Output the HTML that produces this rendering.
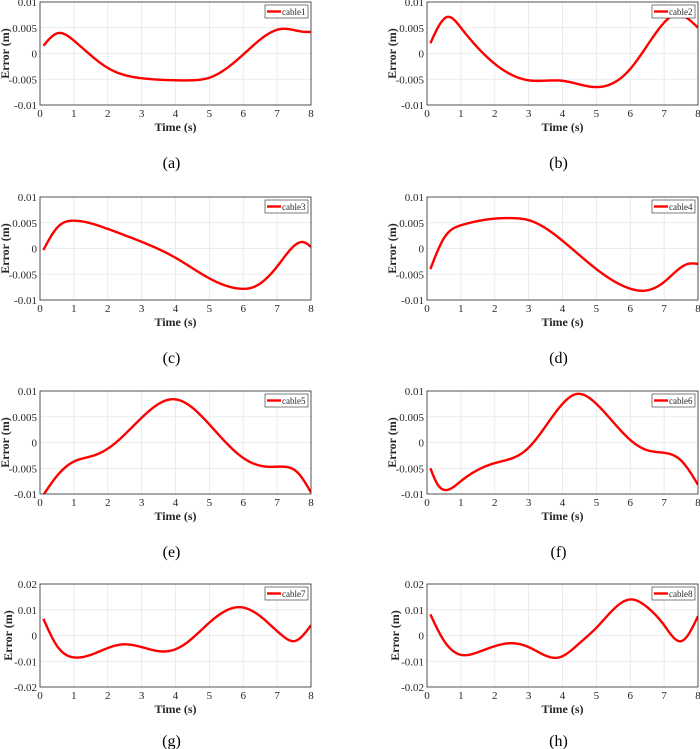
<!DOCTYPE html>
<html><head><meta charset="utf-8"><style>
html,body{margin:0;padding:0;background:#fff;}
svg{display:block;font-family:"Liberation Serif",serif;}
</style></head><body>
<svg id="s" width="700" height="749" viewBox="0 0 700 749" xmlns="http://www.w3.org/2000/svg"></svg>
<script>
const P=[
 {x:40,y:2,lim:0.01,name:"cable1",cap:"(a)",d:[[0.1,0.0015],[0.5,0.0039],[1,0.0025],[2,-0.0028],[3,-0.0048],[4,-0.0052],[4.5,-0.0052],[5,-0.0047],[6,-0.0002],[7,0.0046],[7.2,0.0048],[7.8,0.0042],[8,0.0042]]},
 {x:427,y:2,lim:0.01,name:"cable2",cap:"(b)",d:[[0.1,0.002],[0.6,0.0071],[1,0.005],[2,-0.002],[3,-0.0052],[4,-0.0053],[4.5,-0.006],[5.1,-0.0065],[6,-0.003],[7,0.006],[7.3,0.0075],[8,0.005]]},
 {x:40,y:197,lim:0.01,name:"cable3",cap:"(c)",d:[[0.1,-0.0003],[0.5,0.004],[1,0.0054],[2,0.0038],[3,0.0013],[4,-0.0018],[5,-0.0058],[5.9,-0.0078],[6.3,-0.0075],[7,-0.0035],[7.5,0.0005],[7.8,0.0012],[8,0.0003]]},
 {x:427,y:197,lim:0.01,name:"cable4",cap:"(d)",d:[[0.1,-0.004],[0.5,0.002],[1,0.0045],[2,0.0058],[2.5,0.0059],[3,0.0055],[4,0.0015],[5,-0.004],[6,-0.0078],[6.4,-0.0082],[7,-0.0065],[7.7,-0.003],[8,-0.003]]},
 {x:40,y:391,lim:0.01,name:"cable5",cap:"(e)",d:[[0.1,-0.0102],[0.5,-0.0065],[1,-0.0037],[1.5,-0.0027],[2,-0.0012],[3,0.0048],[3.9,0.0084],[4.2,0.008],[5,0.0035],[6,-0.003],[6.7,-0.0047],[7.2,-0.0047],[7.6,-0.0058],[8,-0.0097]]},
 {x:427,y:391,lim:0.01,name:"cable6",cap:"(f)",d:[[0.1,-0.005],[0.3,-0.008],[0.6,-0.0092],[1,-0.0075],[2,-0.004],[2.7,-0.0025],[3,-0.001],[4,0.0075],[4.4,0.0094],[5,0.0075],[6,0.0005],[6.5,-0.0015],[7,-0.002],[7.5,-0.0035],[8,-0.0082]]},
 {x:40,y:584,lim:0.02,name:"cable7",cap:"(g)",d:[[0.1,0.0065],[0.5,-0.004],[1,-0.0085],[1.5,-0.0075],[2.4,-0.0035],[3,-0.0045],[3.7,-0.0062],[4.2,-0.004],[5,0.005],[5.9,0.011],[6.5,0.0075],[7.2,-0.0005],[7.5,-0.0022],[8,0.004]]},
 {x:427,y:584,lim:0.02,name:"cable8",cap:"(h)",d:[[0.1,0.0082],[0.5,-0.002],[1,-0.0075],[1.5,-0.0065],[2.5,-0.003],[3,-0.0045],[3.9,-0.0085],[4.5,-0.003],[5,0.003],[6,0.014],[6.5,0.011],[7,0.004],[7.5,-0.0022],[8,0.0075]]}
];
function spline(pts){
 const n=pts.length,x=pts.map(p=>p[0]),y=pts.map(p=>p[1]);
 const h=[],al=[],l=[1],mu=[0],z=[0],c=new Array(n).fill(0),b=[],d=[];
 for(let i=0;i<n-1;i++)h[i]=x[i+1]-x[i];
 for(let i=1;i<n-1;i++)al[i]=3/h[i]*(y[i+1]-y[i])-3/h[i-1]*(y[i]-y[i-1]);
 for(let i=1;i<n-1;i++){l[i]=2*(x[i+1]-x[i-1])-h[i-1]*mu[i-1];mu[i]=h[i]/l[i];z[i]=(al[i]-h[i-1]*z[i-1])/l[i];}
 for(let j=n-2;j>=0;j--){c[j]=z[j]-mu[j]*c[j+1];b[j]=(y[j+1]-y[j])/h[j]-h[j]*(c[j+1]+2*c[j])/3;d[j]=(c[j+1]-c[j])/(3*h[j]);}
 return t=>{let j=0;while(j<n-2&&t>x[j+1])j++;const u=t-x[j];return y[j]+b[j]*u+c[j]*u*u+d[j]*u*u*u;};
}
const W=271,H=103;let h="";
P.forEach((p,i)=>{
 const sx=t=>p.x+t/8*W, sy=v=>p.y+H/2-v/p.lim*H/2;
 h+=`<clipPath id="c${i}"><rect x="${p.x}" y="${p.y}" width="${W}" height="${H}"/></clipPath>`;
 for(let k=1;k<8;k++)h+=`<line x1="${sx(k)}" y1="${p.y}" x2="${sx(k)}" y2="${p.y+H}" stroke="#e6e6e6" stroke-width="0.8"/>`;
 for(let k=1;k<4;k++)h+=`<line x1="${p.x}" y1="${p.y+k*H/4}" x2="${p.x+W}" y2="${p.y+k*H/4}" stroke="#e6e6e6" stroke-width="0.8"/>`;
 const f=spline(p.d);let d="";
 for(let t=p.d[0][0];t<=8.0001;t+=0.02)d+=(d?"L":"M")+sx(t).toFixed(2)+","+sy(f(t)).toFixed(2);
 h+=`<path d="${d}" fill="none" stroke="#ff0000" stroke-width="2.4" stroke-linejoin="round" clip-path="url(#c${i})"/>`;
 h+=`<rect x="${p.x}" y="${p.y}" width="${W}" height="${H}" fill="none" stroke="#262626" stroke-width="0.8"/>`;
 for(let k=0;k<=8;k++){h+=`<text x="${sx(k)}" y="${p.y+H+12}" font-size="11" text-anchor="middle" fill="#262626">${k}</text>`;}
 const labs=p.lim==0.01?["0.01","0.005","0","-0.005","-0.01"]:["0.02","0.01","0","-0.01","-0.02"];
 labs.forEach((l,k)=>h+=`<text x="${p.x-3}" y="${p.y+k*H/4+4}" font-size="11" text-anchor="end" fill="#262626">${l}</text>`);
 h+=`<text x="${p.x+W/2}" y="${p.y+H+26}" font-size="12" font-weight="bold" text-anchor="middle" fill="#262626">Time (s)</text>`;
 const lx=p.lim==0.02?p.x-28:p.x-31,ly=p.y+H/2;
 h+=`<text transform="translate(${lx},${ly}) rotate(-90)" font-size="12" font-weight="bold" text-anchor="middle" fill="#262626">Error (m)</text>`;
 h+=`<rect x="${p.x+W-46}" y="${p.y+3}" width="43" height="13" fill="#fff" stroke="#262626" stroke-width="0.6"/>`;
 h+=`<line x1="${p.x+W-44}" y1="${p.y+9.5}" x2="${p.x+W-30}" y2="${p.y+9.5}" stroke="#ff0000" stroke-width="2.4"/>`;
 h+=`<text x="${p.x+W-29}" y="${p.y+13}" font-size="9" fill="#262626">${p.name}</text>`;
 const cy=p.y>500?p.y+H+59:p.y+H+63;
 h+=`<text x="${p.x+W/2-4}" y="${cy}" font-size="16" text-anchor="middle" fill="#000">${p.cap}</text>`;
});
document.getElementById("s").innerHTML=h;
</script>
</body></html>
